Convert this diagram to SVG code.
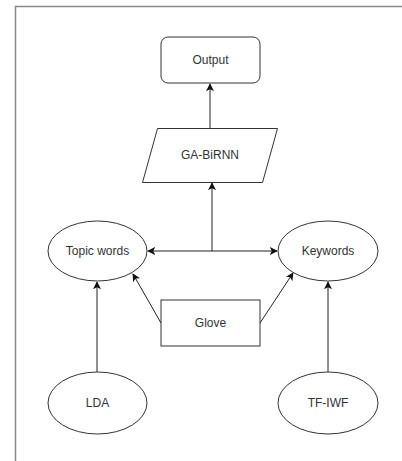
<svg xmlns="http://www.w3.org/2000/svg" width="402" height="461" viewBox="0 0 402 461">
<style>
.s{fill:#fff;stroke:#333;stroke-width:1}
.t{font-family:"Liberation Sans",Arial,sans-serif;font-size:12px;fill:#333;text-anchor:middle;dominant-baseline:central}
.c{fill:none;stroke:#222;stroke-width:1}
</style>
<defs>
<marker id="a" viewBox="0 0 10 10" refX="9" refY="5" markerWidth="8" markerHeight="8" markerUnits="userSpaceOnUse" orient="auto-start-reverse">
<path d="M0,0 L10,5 L0,10 L2.5,5 Z" fill="#111"/>
</marker>
</defs>
<rect width="402" height="461" fill="#fff"/>
<path d="M15.5,461 V6.5 H402" fill="none" stroke="#888" stroke-width="1.5"/>
<g id="connectors">
<path class="c" d="M210,128 V84" marker-end="url(#a)"/>
<path class="c" d="M212,251 V183" marker-end="url(#a)"/>
<path class="c" d="M148,251 H277" marker-start="url(#a)" marker-end="url(#a)"/>
<path class="c" d="M161,323 L133,274" marker-end="url(#a)"/>
<path class="c" d="M260,323 L293,273" marker-end="url(#a)"/>
<path class="c" d="M97,372 V282" marker-end="url(#a)"/>
<path class="c" d="M328,372 V282" marker-end="url(#a)"/>
</g>
<g id="output">
<rect class="s" x="161" y="37" width="99" height="46" rx="7"/>
<text class="t" x="210.5" y="60">Output</text>
</g>
<g id="ga-birnn">
<path class="s" d="M157.5,128.5 H277.5 L262.5,182.5 H142.5 Z"/>
<text class="t" x="210" y="155">GA-BiRNN</text>
</g>
<g id="topic-words">
<ellipse class="s" cx="97.5" cy="251" rx="49.5" ry="30"/>
<text class="t" x="97.5" y="251">Topic words</text>
</g>
<g id="keywords">
<ellipse class="s" cx="328" cy="251" rx="50" ry="30"/>
<text class="t" x="328" y="251">Keywords</text>
</g>
<g id="glove">
<rect class="s" x="161" y="300" width="99" height="46"/>
<text class="t" x="210.5" y="323">Glove</text>
</g>
<g id="lda">
<ellipse class="s" cx="97.5" cy="403" rx="49.5" ry="31"/>
<text class="t" x="97.5" y="403">LDA</text>
</g>
<g id="tf-iwf">
<ellipse class="s" cx="328" cy="403" rx="50" ry="31"/>
<text class="t" x="328" y="403">TF-IWF</text>
</g>
</svg>
